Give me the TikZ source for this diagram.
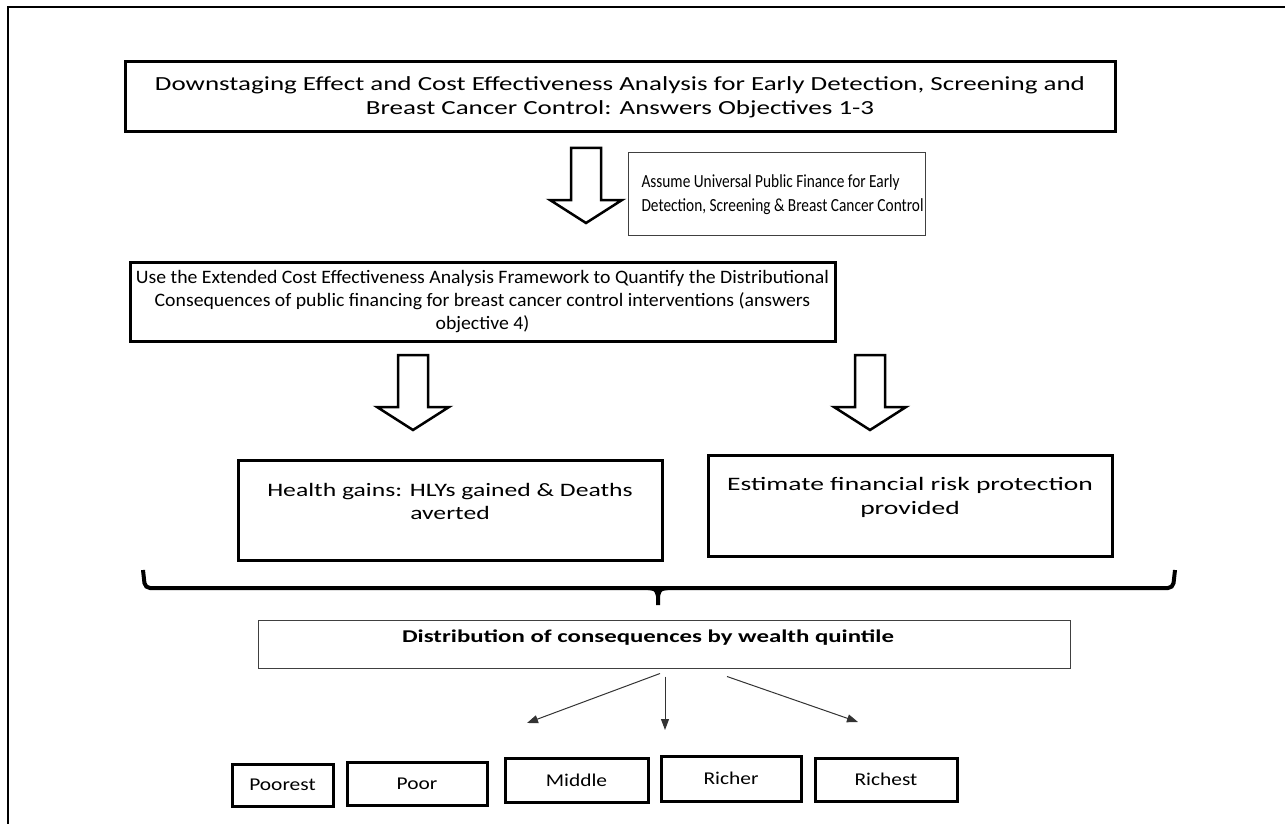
\documentclass[tikz,border=0pt]{standalone}
\usepackage{fontspec}
\setmainfont{Carlito}
\newfontfamily\topfont[FakeStretch=1.35]{Carlito}
\newfontfamily\eceafont[FakeStretch=1.04]{Carlito}
\newfontfamily\narrowfont[FakeStretch=0.83]{Carlito}
\newfontfamily\gainfont[FakeStretch=1.35]{Carlito}
\newfontfamily\frpfont[FakeStretch=1.45]{Carlito}
\newfontfamily\distfont[FakeStretch=1.38]{Carlito}
\newfontfamily\quintfont[FakeStretch=1.19]{Carlito}
\usetikzlibrary{calc,arrows.meta}
\def\blockarrow(#1,#2){\draw[blockarrow] (#1-15,#2) -- (#1+15,#2) -- (#1+15,#2+52) -- (#1+36,#2+52) -- (#1,#2+75) -- (#1-36,#2+52) -- (#1-15,#2+52) -- cycle;}
\tikzset{
  thickbox/.style={draw, line width=3pt, inner sep=0pt, align=center},
  thinbox/.style={draw=black!75, line width=1pt, inner sep=0pt},
  quintile/.style={draw, line width=3pt, inner sep=0pt, font=\quintfont\fontsize{18}{20}\selectfont},
  spoke/.style={draw=black!80, line width=1pt, -{Triangle[length=11pt,width=8pt]}},
  blockarrow/.style={line width=2.5pt, line join=miter},
  bracket/.style={line width=4pt, rounded corners=5pt}
}

\begin{document}
\begin{tikzpicture}[x=1pt,y=-1pt]
			%%%%% START %%%%%
			\useasboundingbox (0,0) rectangle (1285,824);
			\clip (0,0) rectangle (1285,824);
			
			\draw[line width=2.5pt] (8,830) -- (8,7) -- (1300,7);
			
			\node[thickbox, minimum width=990, minimum height=70, font=\topfont\fontsize{20}{24}\selectfont] (objA) at (620,97)
				{Downstaging Effect and Cost Effectiveness Analysis for Early Detection, Screening and\\Breast Cancer Control: Answers Objectives 1-3};
			
			\blockarrow(586,148)
			\node[thinbox, minimum width=297, minimum height=82] (finance) at (776.5,194) {};
			\node[anchor=west, align=left, font=\narrowfont\fontsize{18.5}{24}\selectfont] (financetxt) at (638,195)
				{Assume Universal Public Finance for Early\\Detection, Screening \& Breast Cancer Control};
			
			\node[thickbox, minimum width=705, minimum height=79, font=\eceafont\fontsize{19}{23}\selectfont] (ecea) at (482.5,301.5)
				{Use the Extended Cost Effectiveness Analysis Framework to Quantify the Distributional\\Consequences of public financing for breast cancer control interventions (answers\\objective 4)};
			
			\blockarrow(413,355)
			\blockarrow(870,355)
			
			\node[thickbox, minimum width=424, minimum height=100] (health) at (450,510) {};
			\node[align=center, font=\gainfont\fontsize{19}{23}\selectfont] (healthtxt) at (450,501)
				{Health gains: HLYs gained \& Deaths\\averted};
			\node[thickbox, minimum width=404, minimum height=101] (frp) at (910,505.5) {};
			\node[align=center, font=\frpfont\fontsize{19}{24}\selectfont] (frptxt) at (910,497)
				{Estimate financial risk protection\\provided};
			
			\draw[bracket] (143,570) -- (145,588) -- (1173,588) -- (1175,570);
			\draw[line width=4pt] (648,588) .. controls (656,589) .. (658,596) -- (658,605);
			\draw[line width=4pt] (668,588) .. controls (660,589) .. (658,596);
			
			\node[thinbox, minimum width=812, minimum height=48] (dist) at (664,644) {};
			\node[font=\distfont\bfseries\fontsize{18}{20}\selectfont] (disttxt) at (648,638)
				{Distribution of consequences by wealth quintile};
			
			\coordinate (endL) at (527,723);
			\coordinate (endM) at (665,730);
			\coordinate (endR) at (858,722);
			\draw[spoke] ($(dist.south)+(-4,5)$) -- (endL);
			\draw[spoke] ($(dist.south)+(1,8)$) -- (endM);
			\draw[spoke] ($(dist.south)+(63,8)$) -- (endR);
			
			\node[quintile, minimum width=101, minimum height=42] (q1) at (282.5,785) {Poorest};
			\node[quintile, minimum width=140, minimum height=43] (q2) at (417,783.5) {Poor};
			\node[quintile, minimum width=143, minimum height=44] (q3) at (576.5,780) {Middle};
			\node[quintile, minimum width=140, minimum height=45] (q4) at (731,778.5) {Richer};
			\node[quintile, minimum width=142, minimum height=43] (q5) at (886,779.5) {Richest};
			
			%%%%% END %%%%%
		\end{tikzpicture}
\end{document}
